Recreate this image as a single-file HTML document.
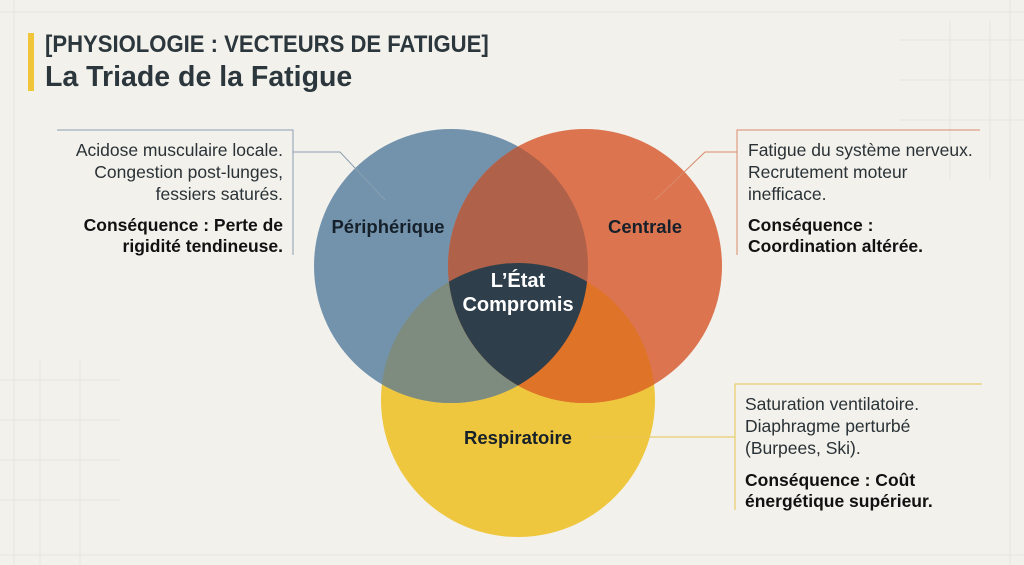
<!DOCTYPE html>
<html><head><meta charset="utf-8"><style>
body{margin:0;width:1024px;height:565px;background:#f2f1ec;overflow:hidden;position:relative;font-family:"Liberation Sans",sans-serif;color:#1f2a30}
.t{position:absolute;font-size:17.5px;line-height:22px;color:#2a3236;white-space:nowrap}
.b{font-weight:bold;color:#111;line-height:21px}
</style></head><body>
<svg width="1024" height="565" style="position:absolute;left:0;top:0">
<g stroke="#e6e5de" stroke-width="1" fill="none">
<line x1="0" y1="12" x2="1024" y2="12"/><line x1="0" y1="555" x2="1024" y2="555"/>
<line x1="14" y1="0" x2="14" y2="565"/><line x1="1010" y1="0" x2="1010" y2="565"/>
<line x1="0" y1="380" x2="120" y2="380"/><line x1="0" y1="420" x2="120" y2="420"/><line x1="0" y1="460" x2="120" y2="460"/><line x1="0" y1="500" x2="120" y2="500"/>
<line x1="40" y1="360" x2="40" y2="565"/><line x1="80" y1="360" x2="80" y2="565"/>
<line x1="900" y1="40" x2="1024" y2="40"/><line x1="900" y1="80" x2="1024" y2="80"/><line x1="900" y1="120" x2="1024" y2="120"/>
<line x1="950" y1="20" x2="950" y2="180"/><line x1="990" y1="20" x2="990" y2="180"/>
</g>
<rect x="28" y="33" width="6" height="58" fill="#f0c53a"/>
<defs>
<clipPath id="cb"><circle cx="451" cy="266" r="137"/></clipPath>
<clipPath id="co"><circle cx="585" cy="266" r="137"/></clipPath>
<clipPath id="cy"><circle cx="518" cy="400" r="137"/></clipPath>
</defs>
<circle cx="518" cy="400" r="137" fill="#efc73e"/>
<circle cx="451" cy="266" r="137" fill="#7393ad"/>
<circle cx="585" cy="266" r="137" fill="#dc7450"/>
<circle cx="585" cy="266" r="137" fill="#b0614a" clip-path="url(#cb)"/>
<g clip-path="url(#cy)">
<circle cx="451" cy="266" r="137" fill="#7d8c7e"/>
<circle cx="585" cy="266" r="137" fill="#df7328"/>
<g clip-path="url(#cb)"><circle cx="585" cy="266" r="137" fill="#2f3e4b"/></g>
</g>
<g stroke="#8aa0b0" stroke-width="1" fill="none">
<polyline points="57,130 293,130 293,255"/>
<polyline points="293,152 340,152 385,200"/>
</g>
<g stroke="#d98a6a" stroke-width="1" fill="none">
<polyline points="980,130 737,130 737,255"/>
<polyline points="737,152 705,152 655,200"/>
</g>
<g stroke="#e8c550" stroke-width="1" fill="none">
<polyline points="982,384 735,384 735,510"/>
<line x1="735" y1="437" x2="590" y2="437"/>
</g>
<g font-family="Liberation Sans" font-weight="bold" font-size="18.5" fill="#16202a" text-anchor="middle">
<text x="388" y="233">Périphérique</text>
<text x="645" y="233">Centrale</text>
<text x="518" y="444">Respiratoire</text>
</g>
<text x="518" y="287" text-anchor="middle" font-family="Liberation Sans" font-weight="bold" font-size="20" fill="#fff">L’État</text>
<text x="518" y="311" text-anchor="middle" font-family="Liberation Sans" font-weight="bold" font-size="20" fill="#fff">Compromis</text>
</svg>
<div style="position:absolute;left:45px;top:31px;font-size:24px;font-weight:bold;color:#2c373d;white-space:nowrap;transform:scaleX(0.92);transform-origin:left">[PHYSIOLOGIE : VECTEURS DE FATIGUE]</div>
<div style="position:absolute;left:45px;top:61px;font-size:28.5px;font-weight:bold;color:#2c373d;white-space:nowrap">La Triade de la Fatigue</div>
<div class="t" style="right:741px;top:139px;text-align:right">Acidose musculaire locale.<br>Congestion post-lunges,<br>fessiers saturés.</div>
<div class="t b" style="right:741px;top:215px;text-align:right">Conséquence : Perte de<br>rigidité tendineuse.</div>
<div class="t" style="left:748px;top:139px">Fatigue du système nerveux.<br>Recrutement moteur<br>inefficace.</div>
<div class="t b" style="left:748px;top:215px">Conséquence :<br>Coordination altérée.</div>
<div class="t" style="left:745px;top:393px">Saturation ventilatoire.<br>Diaphragme perturbé<br>(Burpees, Ski).</div>
<div class="t b" style="left:745px;top:470px">Conséquence : Coût<br>énergétique supérieur.</div>
</body></html>
